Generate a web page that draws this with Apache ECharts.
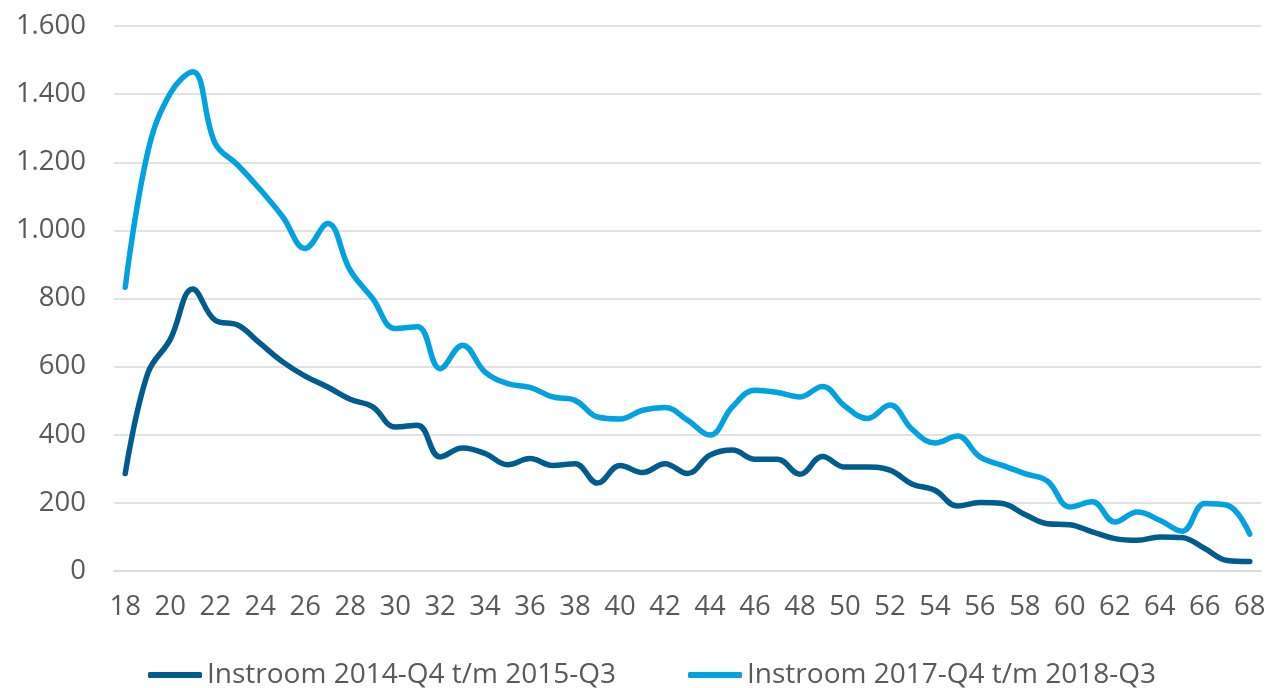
<!DOCTYPE html>
<html><head><meta charset="utf-8">
<script src="https://cdn.jsdelivr.net/npm/echarts@6/dist/echarts.min.js"></script>
<style>html,body{margin:0;padding:0;background:#fff}#c{width:1269px;height:688px}</style>
</head><body><div id="c"></div>
<script>
const ages = [];
for (let a = 18; a <= 68; a++) ages.push(String(a));
const seriesNames = ['Instroom 2014-Q4 t/m 2015-Q3', 'Instroom 2017-Q4 t/m 2018-Q3'];
const instroom2015 = [286, 580, 680, 828, 736, 722, 668, 614, 572, 540, 504, 482, 423, 428, 335, 361, 345, 312, 330, 310, 315, 258, 310, 289, 315, 286, 340, 355, 328, 328, 284, 336, 305, 305, 296, 255, 237, 191, 201, 198, 166, 139, 136, 115, 95, 90, 100, 98, 66, 31, 28];
const instroom2018 = [833, 1230, 1402, 1466, 1255, 1192, 1120, 1040, 947, 1020, 883, 800, 712, 717, 594, 663, 584, 550, 539, 511, 501, 452, 446, 472, 480, 443, 399, 482, 531, 524, 511, 542, 484, 448, 487, 415, 376, 396, 335, 310, 286, 264, 188, 203, 144, 173, 149, 117, 198, 193, 108];
const yTicks = {min: 0, max: 1600, interval: 200};

const chart = echarts.init(document.getElementById('c'));
const font = 'Open Sans';
chart.setOption({
  animation: false,
  grid: {left: 114, right: 8, top: 26, bottom: 117, containLabel: false},
  xAxis: {
    type: 'category', data: ages, boundaryGap: true,
    axisLine: {lineStyle: {color: '#d9d9d9', width: 1.5}},
    axisTick: {show: false},
    axisLabel: {interval: 1, color: '#595959', fontFamily: font, fontSize: 27.5, margin: 22}
  },
  yAxis: {
    type: 'value', min: yTicks.min, max: yTicks.max, interval: yTicks.interval,
    axisLine: {show: false}, axisTick: {show: false},
    splitLine: {lineStyle: {color: '#d9d9d9', width: 1.5}},
    axisLabel: {color: '#595959', fontFamily: font, fontSize: 27.5, margin: 28,
      formatter: v => String(v).replace(/\B(?=(\d{3})+(?!\d))/g, '.')}
  },
  legend: {
    top: 656, left: 143, itemGap: 72, itemWidth: 54, itemHeight: 6,
    icon: 'roundRect',
    textStyle: {color: '#595959', fontFamily: font, fontSize: 28}
  },
  series: [
    {name: seriesNames[0], type: 'line', data: instroom2015, smooth: 0.4, symbol: 'none',
      lineStyle: {color: '#005B8F', width: 5.5, cap: 'round'}, itemStyle: {color: '#005B8F'}},
    {name: seriesNames[1], type: 'line', data: instroom2018, smooth: 0.4, symbol: 'none',
      lineStyle: {color: '#00A2E2', width: 5.5, cap: 'round'}, itemStyle: {color: '#00A2E2'}}
  ]
});
</script></body></html>
